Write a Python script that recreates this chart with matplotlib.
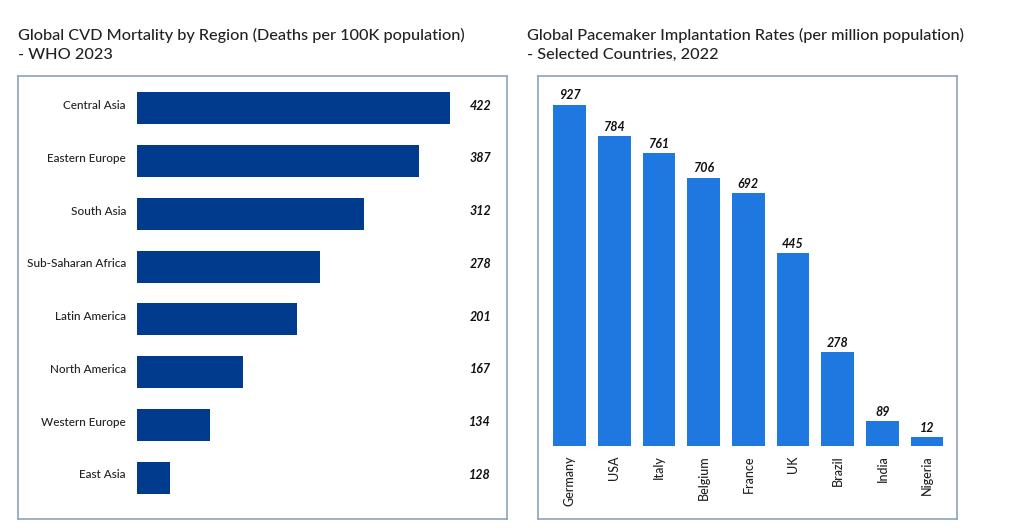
import matplotlib.pyplot as plt
from matplotlib.transforms import blended_transform_factory

plt.rcParams['font.family'] = ['Lato', 'DejaVu Sans']

# left chart: CVD mortality by region
regions = ["Central Asia", "Eastern Europe", "South Asia", "Sub-Saharan Africa",
           "Latin America", "North America", "Western Europe", "East Asia"]
region_labels = ["422", "387", "312", "278", "201", "167", "134", "128"]
# bar lengths as drawn (they don't follow the printed labels)
region_bars = [422, 380, 306, 246, 216, 143, 99, 44]

# right chart: pacemaker implantation rates
countries = ["Germany", "USA", "Italy", "Belgium", "France", "UK", "Brazil", "India", "Nigeria"]
country_labels = ["927", "784", "761", "706", "692", "445", "278", "89", "12"]
country_bars = [927, 842, 796, 729, 687, 524, 254, 66, 23]

W, H = 1024, 532
fig = plt.figure(figsize=(W / 100, H / 100), dpi=100)

def px(x0, y0, x1, y1):
    # pixel box (top-left origin) -> figure fraction rect
    return [x0 / W, (H - y1) / H, (x1 - x0) / W, (y1 - y0) / H]

frame_col = "#8ea3bd"
title_col = "#222222"
txt_w = "medium"

# frames
for box in [(18, 76, 507, 519), (538, 76, 957, 519)]:
    fr = fig.add_axes(px(*box), zorder=0)
    fr.set_xticks([])
    fr.set_yticks([])
    for s in fr.spines.values():
        s.set_color(frame_col)
        s.set_linewidth(1.2)

fig.text(18 / W, 1 - 59 / H, "Global CVD Mortality by Region (Deaths per 100K population)\n- WHO 2023",
         fontsize=11.7, color=title_col, ha="left", va="baseline", linespacing=1.45,
         fontweight=txt_w)
fig.text(527 / W, 1 - 59 / H, "Global Pacemaker Implantation Rates (per million population)\n- Selected Countries, 2022",
         fontsize=11.7, color=title_col, ha="left", va="baseline", linespacing=1.45,
         fontweight=txt_w)

# ---- left horizontal bars
ax1 = fig.add_axes(px(137, 82, 471, 504), zorder=1)
ax1.patch.set_alpha(0)
ypos = list(range(len(regions)))
ax1.barh(ypos, region_bars, height=0.61, color="#003b8e")
ax1.set_xlim(0, 450)
ax1.set_ylim(len(regions) - 0.5, -0.5)
# labels sit a little above the bar centre
ax1.set_yticks([y - 0.07 for y in ypos])
ax1.set_yticklabels(regions, fontsize=8.5, color="#222222", fontweight=txt_w)
ax1.tick_params(axis="y", length=0, pad=8)
ax1.set_xticks([])
for s in ax1.spines.values():
    s.set_visible(False)
tr = blended_transform_factory(fig.transFigure, ax1.transData)
for i, lab in enumerate(region_labels):
    ax1.text(491 / W, i - 0.05, lab, transform=tr, ha="right", va="center",
             fontsize=9, fontweight="bold", fontstyle="italic", color="#111111")

# ---- right vertical bars
ax2 = fig.add_axes(px(547.4, 78, 949.4, 445.7), zorder=1)
ax2.patch.set_alpha(0)
xpos = range(len(countries))
ax2.bar(xpos, country_bars, width=0.73, color="#1f78e0")
ax2.set_xlim(-0.5, len(countries) - 0.5)
ax2.set_ylim(0, 1000)
ax2.set_xticks(list(xpos))
ax2.set_xticklabels(countries, rotation=90, fontsize=9, color="#222222", fontweight=txt_w)
ax2.tick_params(axis="x", length=0, pad=7)
ax2.set_yticks([])
for s in ax2.spines.values():
    s.set_visible(False)
for i, (h, lab) in enumerate(zip(country_bars, country_labels)):
    ax2.annotate(lab, (i, h), xytext=(0, 2.5), textcoords="offset points",
                 ha="center", va="bottom", fontsize=9, fontweight="bold",
                 fontstyle="italic", color="#111111")

fig.savefig("out.png", dpi=100)
